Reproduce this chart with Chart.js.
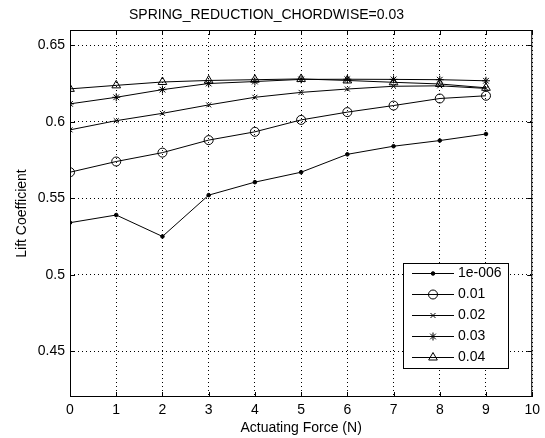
<!DOCTYPE html>
<html>
<head>
<meta charset="utf-8">
<script src="https://cdn.jsdelivr.net/npm/chart.js@4.4.0/dist/chart.umd.min.js"></script>
<style>
  html, body { margin: 0; padding: 0; background: #fff; }
</style>
</head>
<body>
<canvas id="chart" width="545" height="438"></canvas>
<script>
// x values (actuating force, N)
const forces = [0, 1, 2, 3, 4, 5, 6, 7, 8, 9];

// lift coefficient per spring reduction (spanwise) value
const lift_1e006 = [0.534, 0.539, 0.525, 0.552, 0.5605, 0.567, 0.5787, 0.584, 0.5877, 0.592];
const lift_001 = [0.567, 0.574, 0.5798, 0.588, 0.5934, 0.6012, 0.6063, 0.6106, 0.6152, 0.617];
const lift_002 = [0.5947, 0.6007, 0.6055, 0.611, 0.616, 0.6192, 0.6214, 0.6232, 0.6235, 0.6218];
const lift_003 = [0.6117, 0.616, 0.621, 0.625, 0.6263, 0.6277, 0.6278, 0.6277, 0.6275, 0.6268];
const lift_004 = [0.6215, 0.6238, 0.626, 0.627, 0.6275, 0.628, 0.627, 0.6258, 0.6247, 0.6222];

const seriesLabels = ['1e-006', '0.01', '0.02', '0.03', '0.04'];
const yTickValues = [0.45, 0.5, 0.55, 0.6, 0.65];

const fontfam = '"Liberation Sans", Arial, sans-serif';

const toPoints = (ys) => ys.map((y, i) => ({x: forces[i], y}));

const mkSeries = (label, ys, style, radius, fill) => ({
    label,
    data: toPoints(ys),
    borderColor: '#000',
    borderWidth: 1,
    pointStyle: style,
    pointRadius: radius,
    pointHoverRadius: radius,
    pointBorderColor: '#000',
    pointBorderWidth: 1,
    pointBackgroundColor: fill,
    tension: 0
});

const datasets = [
    mkSeries(seriesLabels[0], lift_1e006, 'circle', 1.8, '#000'),
    mkSeries(seriesLabels[1], lift_001, 'circle', 4.5, 'rgba(0,0,0,0)'),
    mkSeries(seriesLabels[2], lift_002, 'crossRot', 3.5, 'rgba(0,0,0,0)'),
    mkSeries(seriesLabels[3], lift_003, 'star', 4, 'rgba(0,0,0,0)'),
    mkSeries(seriesLabels[4], lift_004, 'triangle', 5, 'rgba(0,0,0,0)')
];

// axes box + inward tick marks, drawn over the data like matlab does
const axesBox = {
    id: 'axesBox',
    afterDatasetsDraw(chart) {
        const {ctx, chartArea: a, scales} = chart;
        ctx.save();
        ctx.strokeStyle = '#000';
        ctx.lineWidth = 1;
        ctx.strokeRect(a.left + 0.5, a.top + 0.5, a.right - a.left - 1, a.bottom - a.top - 1);
        ctx.beginPath();
        for (const t of scales.x.ticks) {
            const px = Math.round(scales.x.getPixelForValue(t.value)) + 0.5;
            ctx.moveTo(px, a.bottom); ctx.lineTo(px, a.bottom - 5);
            ctx.moveTo(px, a.top); ctx.lineTo(px, a.top + 5);
        }
        for (const t of scales.y.ticks) {
            const py = Math.round(scales.y.getPixelForValue(t.value)) + 0.5;
            ctx.moveTo(a.left, py); ctx.lineTo(a.left + 5, py);
            ctx.moveTo(a.right, py); ctx.lineTo(a.right - 5, py);
        }
        ctx.stroke();
        ctx.restore();
    }
};

// legend box in the lower right of the axes
const legendBox = {
    id: 'legendBox',
    afterDraw(chart) {
        const ctx = chart.ctx;
        const x0 = 403, y0 = 263, w = 105, rowH = 21;
        const n = chart.data.datasets.length;
        const h = rowH * n;
        ctx.save();
        ctx.fillStyle = '#fff';
        ctx.fillRect(x0, y0, w, h);
        ctx.strokeStyle = '#000';
        ctx.lineWidth = 1;
        ctx.strokeRect(x0 + 0.5, y0 + 0.5, w, h);
        ctx.font = '14px ' + fontfam;
        ctx.textBaseline = 'middle';
        chart.data.datasets.forEach((ds, i) => {
            const y = Math.round(y0 + 10 + i * rowH) + 0.5;
            ctx.strokeStyle = '#000';
            ctx.lineWidth = 1;
            ctx.beginPath();
            ctx.moveTo(x0 + 9, y);
            ctx.lineTo(x0 + 51, y);
            ctx.stroke();
            ctx.fillStyle = ds.pointBackgroundColor;
            Chart.helpers.drawPoint(ctx, {
                pointStyle: ds.pointStyle,
                radius: ds.pointRadius,
                rotation: 0,
                borderWidth: 1
            }, x0 + 30, y);
            ctx.fillStyle = '#000';
            ctx.fillText(ds.label, x0 + 55, y);
        });
        ctx.restore();
    }
};

new Chart(document.getElementById('chart'), {
    type: 'line',
    data: {datasets},
    plugins: [axesBox, legendBox],
    options: {
        responsive: false,
        animation: false,
        events: [],
        layout: {padding: {left: 0, right: 12, top: 0, bottom: 0}},
        plugins: {
            legend: {display: false},
            tooltip: {enabled: false},
            title: {
                display: true,
                text: 'SPRING_REDUCTION_CHORDWISE=0.03',
                color: '#000',
                font: {family: fontfam, size: 14, weight: 'normal'},
                padding: {top: 7, bottom: 6.2}
            }
        },
        scales: {
            x: {
                type: 'linear',
                min: 0,
                max: 10,
                afterFit: (s) => { s.height = 41; },
                ticks: {
                    stepSize: 1,
                    padding: 5,
                    color: '#000',
                    font: {family: fontfam, size: 14},
                    maxRotation: 0
                },
                grid: {color: '#000', lineWidth: 1, drawTicks: false},
                border: {display: false, dash: [1, 3]},
                title: {
                    display: true,
                    text: 'Actuating Force (N)',
                    color: '#000',
                    font: {family: fontfam, size: 14},
                    padding: {top: 0, bottom: 1}
                }
            },
            y: {
                type: 'linear',
                min: 0.42,
                max: 0.66,
                afterFit: (s) => { s.width = 70; },
                afterBuildTicks: (s) => { s.ticks = yTickValues.map(value => ({value})); },
                ticks: {
                    padding: 5,
                    color: '#000',
                    font: {family: fontfam, size: 14},
                    callback: (v) => String(+v.toFixed(2))
                },
                grid: {color: '#000', lineWidth: 1, drawTicks: false},
                border: {display: false, dash: [1, 3]},
                title: {
                    display: true,
                    text: 'Lift Coefficient',
                    color: '#000',
                    font: {family: fontfam, size: 14},
                    padding: {top: 14, bottom: 0}
                }
            }
        }
    }
});
</script>
</body>
</html>
